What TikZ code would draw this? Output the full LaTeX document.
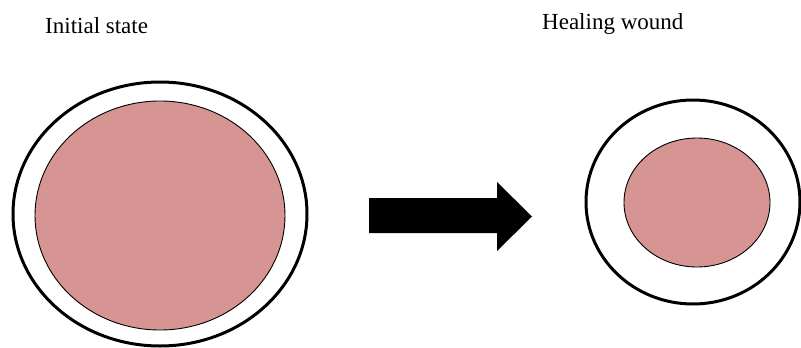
\documentclass[tikz,border=0pt]{standalone}
\usepackage{fontspec}
\setmainfont{Liberation Serif}
\usetikzlibrary{shapes.geometric}
\definecolor{wound}{RGB}{214,148,146}
\begin{document}
\begin{tikzpicture}[x=1pt,y=-1pt,
  outerring/.style={ellipse,draw=black,line width=3pt,inner sep=0pt,fill=white},
  woundarea/.style={ellipse,draw=black,line width=0.9pt,fill=wound,inner sep=0pt},
  titletext/.style={font=\fontsize{23}{26}\selectfont,anchor=base west,inner sep=0pt}]
\useasboundingbox (0,0) rectangle (801,348);
\node[titletext] (t1) at (45,33) {Initial state};
\node[titletext] (t2) at (542,30) {Healing wound};
\node[outerring,minimum width=294pt,minimum height=264pt] (o1) at (160,214) {};
\node[woundarea,minimum width=250pt,minimum height=229pt] (w1) at (160,215.5) {};
\node[outerring,minimum width=214pt,minimum height=204pt] (o2) at (693,202) {};
\node[woundarea,minimum width=146pt,minimum height=129pt] (w2) at (697,202.5) {};
\fill[black] (369,198) -- (497,198) -- (497,182) -- (532,216.5) -- (497,251) -- (497,233) -- (369,233) -- cycle;
\end{tikzpicture}
\end{document}
